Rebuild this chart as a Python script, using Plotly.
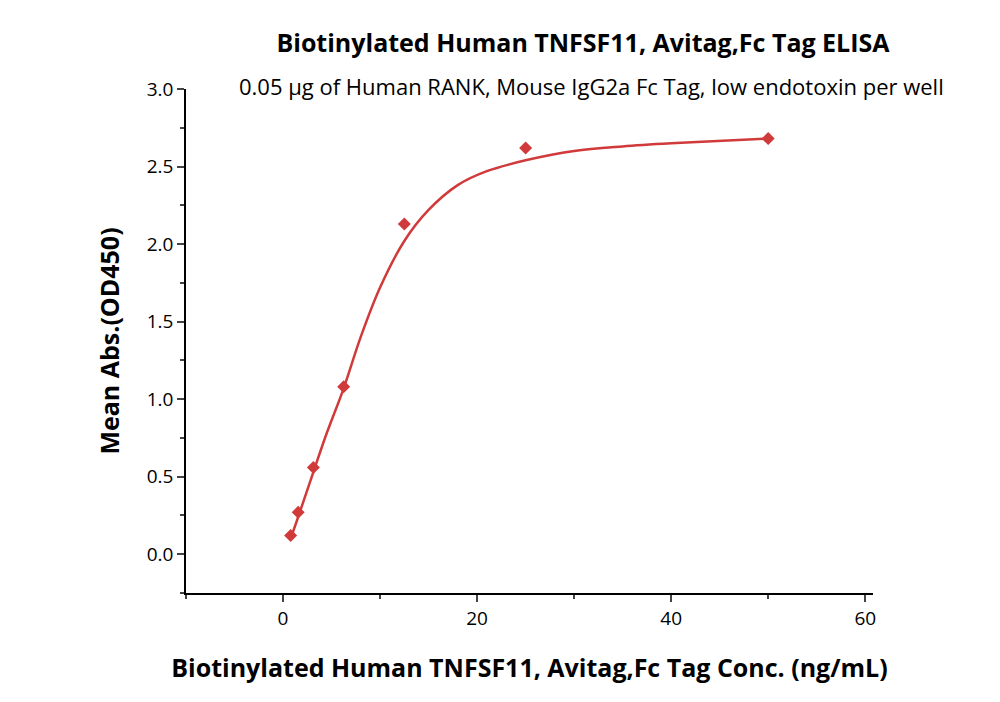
import plotly.graph_objects as go

conc = [0.78, 1.56, 3.125, 6.25, 12.5, 25, 50]
absv = [0.12, 0.27, 0.56, 1.08, 2.13, 2.62, 2.68]
fit_x = [0.78, 1.56, 3.125, 4.5, 6.25, 8, 10, 12.5, 15, 18, 21, 25, 30, 35, 40, 50]
fit_y = [0.10, 0.24, 0.53, 0.78, 1.07, 1.40, 1.72, 2.02, 2.22, 2.38, 2.47, 2.54, 2.60, 2.63, 2.65, 2.68]

red = "#d03a3a"
fig = go.Figure()
fig.add_trace(go.Scatter(x=fit_x, y=fit_y, mode="lines", line=dict(color=red, width=2.5, shape="spline"), showlegend=False))
fig.add_trace(go.Scatter(x=conc, y=absv, mode="markers", marker=dict(symbol="diamond", color=red, size=10), showlegend=False))

font = "Open Sans"
fig.update_layout(
    width=1000, height=702, paper_bgcolor="white", plot_bgcolor="white",
    margin=dict(l=178, r=135, t=81, b=117),
    font=dict(family=font, size=19, color="black"),
    title=dict(text="<b>Biotinylated Human TNFSF11, Avitag,Fc Tag ELISA</b>", x=0.575, xanchor="center", y=0.95, yanchor="middle", font=dict(size=25)),
    annotations=[dict(text="0.05 µg of Human RANK, Mouse IgG2a Fc Tag, low endotoxin per well", x=0.9, xanchor="center", y=0.886, yref="paper", xref="paper", yanchor="middle", showarrow=False, font=dict(size=22))],
)
fig.layout.annotations[0].x = 583/1000
fig.layout.annotations[0].xref = "paper"
fig.update_layout(annotations=[dict(text="0.05 µg of Human RANK, Mouse IgG2a Fc Tag, low endotoxin per well", x=0.583, xanchor="center", y=1 - 78/702, yref="paper", xref="paper", yanchor="middle", showarrow=False, font=dict(size=22))])
fig.layout.annotations[0].update(xref="paper", yref="paper")
fig.layout.annotations[0].x = (583 - 178) / (1000 - 178 - 135)
fig.layout.annotations[0].y = (585 - 78) / (585 - 81)
fig.update_xaxes(range=[-10, 60.8], tickvals=[0, 20, 40, 60], showline=True, linecolor="black", linewidth=1.5,
                 ticks="outside", ticklen=7, tickwidth=1.5, showgrid=False, zeroline=False, automargin=False,
                 minor=dict(dtick=10, ticks="outside", ticklen=4, tickwidth=1.5, showgrid=False),
                 title=dict(text="<b>Biotinylated Human TNFSF11, Avitag,Fc Tag Conc. (ng/mL)</b>", font=dict(size=25), standoff=30))
fig.update_yaxes(range=[-0.25, 3.0], tickvals=[0, 0.5, 1, 1.5, 2, 2.5, 3], ticktext=["0.0", "0.5", "1.0", "1.5", "2.0", "2.5", "3.0"],
                 showline=True, linecolor="black", linewidth=1.5, automargin=False,
                 ticks="outside", ticklen=7, tickwidth=1.5, showgrid=False, zeroline=False,
                 minor=dict(dtick=0.25, ticks="outside", ticklen=4, tickwidth=1.5, showgrid=False),
                 title=dict(text="<b>Mean Abs.(OD450)</b>", font=dict(size=25), standoff=20))
fig.write_html("out.html")
